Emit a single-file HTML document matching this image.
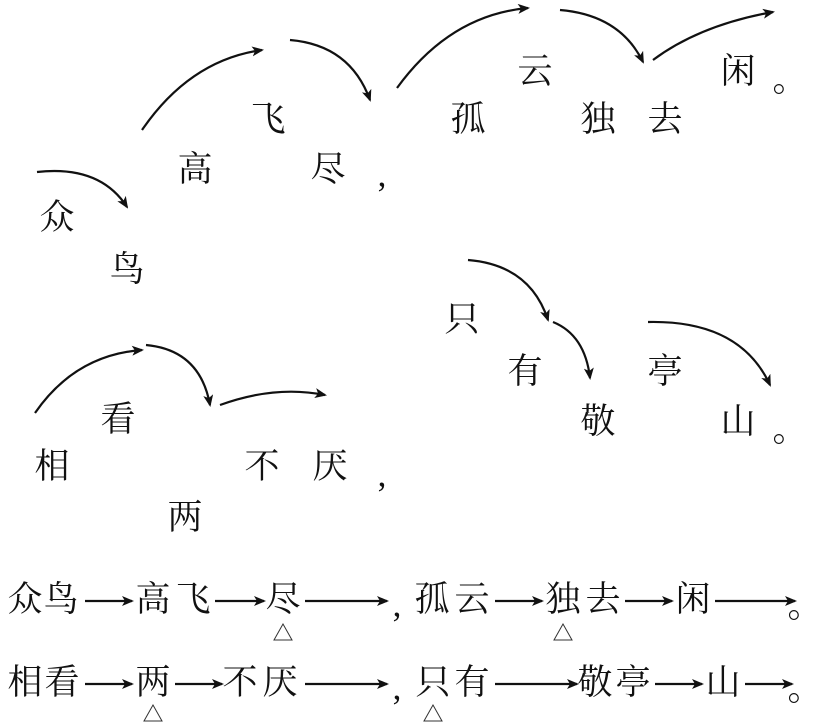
<!DOCTYPE html>
<html><head><meta charset="utf-8"><style>
body{margin:0;width:816px;height:725px;background:#fff;position:relative;overflow:hidden;font-family:"Liberation Serif","Noto Serif CJK SC","Noto Sans CJK SC",serif;color:#111}
.c{position:absolute;font-size:35px;line-height:40px;width:40px;text-align:center;transform:translate(-20px,-20px)}
svg{position:absolute;left:0;top:0}
</style></head><body>
<svg width="816" height="725" viewBox="0 0 816 725">
<defs><marker id="a" markerWidth="12" markerHeight="10" refX="10" refY="5" orient="auto" markerUnits="userSpaceOnUse"><path d="M0,0 L12,5 L0,10 L3,5z" fill="#111"/></marker></defs>
<g fill="none" stroke="#111" stroke-width="2.2" marker-end="url(#a)">
<path d="M37,172 Q100,165 127,207"/>
<path d="M142,130 Q190,60 262,50"/>
<path d="M290,40 Q350,45 370,100"/>
<path d="M397,88 Q450,15 528,8"/>
<path d="M560,10 Q620,15 643,62"/>
<path d="M653,60 Q700,25 773,12"/>
<path d="M468,260 Q530,265 548,320"/>
<path d="M553,322 Q585,335 590,378"/>
<path d="M648,322 Q740,320 770,385"/>
<path d="M35,413 Q75,355 142,350"/>
<path d="M146,345 Q200,350 210,405"/>
<path d="M220,405 Q275,385 325,395"/>
<path d="M85,601H132"/><path d="M215,601H264"/><path d="M305,601H387"/><path d="M495,601H542"/><path d="M625,601H672"/><path d="M715,601H795"/>
<path d="M85,684H132"/><path d="M175,684H222"/><path d="M305,684H387"/><path d="M495,684H577"/><path d="M655,684H702"/><path d="M745,684H792"/>
</g>
<g fill="none" stroke="#333" stroke-width="1">
<path d="M283,624 L274,640 L292,640Z"/><path d="M563,624 L554,640 L572,640Z"/>
<path d="M153,705 L144,721 L162,721Z"/><path d="M433,705 L424,721 L442,721Z"/>
</g>
</svg>
<div class="c" style="left:57px;top:218px">众</div>
<div class="c" style="left:127px;top:270px">鸟</div>
<div class="c" style="left:195px;top:170px">高</div>
<div class="c" style="left:268px;top:120px">飞</div>
<div class="c" style="left:328px;top:170px">尽</div>
<div class="c" style="left:382px;top:175px">,</div>
<div class="c" style="left:468px;top:120px">孤</div>
<div class="c" style="left:535px;top:72px">云</div>
<div class="c" style="left:598px;top:120px">独</div>
<div class="c" style="left:665px;top:120px">去</div>
<div class="c" style="left:738px;top:72px">闲</div>
<div class="c" style="left:790px;top:80px">。</div>
<div class="c" style="left:462px;top:320px">只</div>
<div class="c" style="left:525px;top:372px">有</div>
<div class="c" style="left:665px;top:372px">亭</div>
<div class="c" style="left:598px;top:422px">敬</div>
<div class="c" style="left:738px;top:422px">山</div>
<div class="c" style="left:790px;top:430px">。</div>
<div class="c" style="left:52px;top:467px">相</div>
<div class="c" style="left:118px;top:420px">看</div>
<div class="c" style="left:262px;top:467px">不</div>
<div class="c" style="left:330px;top:467px">厌</div>
<div class="c" style="left:382px;top:475px">,</div>
<div class="c" style="left:185px;top:518px">两</div>

<div class="c" style="left:25px;top:600px">众</div>
<div class="c" style="left:61px;top:600px">鸟</div>
<div class="c" style="left:153px;top:600px">高</div>
<div class="c" style="left:193px;top:600px">飞</div>
<div class="c" style="left:283px;top:600px">尽</div>
<div class="c" style="left:397px;top:605px">,</div>
<div class="c" style="left:432px;top:600px">孤</div>
<div class="c" style="left:472px;top:600px">云</div>
<div class="c" style="left:563px;top:600px">独</div>
<div class="c" style="left:603px;top:600px">去</div>
<div class="c" style="left:693px;top:600px">闲</div>
<div class="c" style="left:805px;top:606px">。</div>

<div class="c" style="left:25px;top:683px">相</div>
<div class="c" style="left:62px;top:683px">看</div>
<div class="c" style="left:153px;top:683px">两</div>
<div class="c" style="left:240px;top:683px">不</div>
<div class="c" style="left:280px;top:683px">厌</div>
<div class="c" style="left:397px;top:688px">,</div>
<div class="c" style="left:433px;top:683px">只</div>
<div class="c" style="left:472px;top:683px">有</div>
<div class="c" style="left:595px;top:683px">敬</div>
<div class="c" style="left:633px;top:683px">亭</div>
<div class="c" style="left:723px;top:683px">山</div>
<div class="c" style="left:805px;top:689px">。</div>
</body></html>
